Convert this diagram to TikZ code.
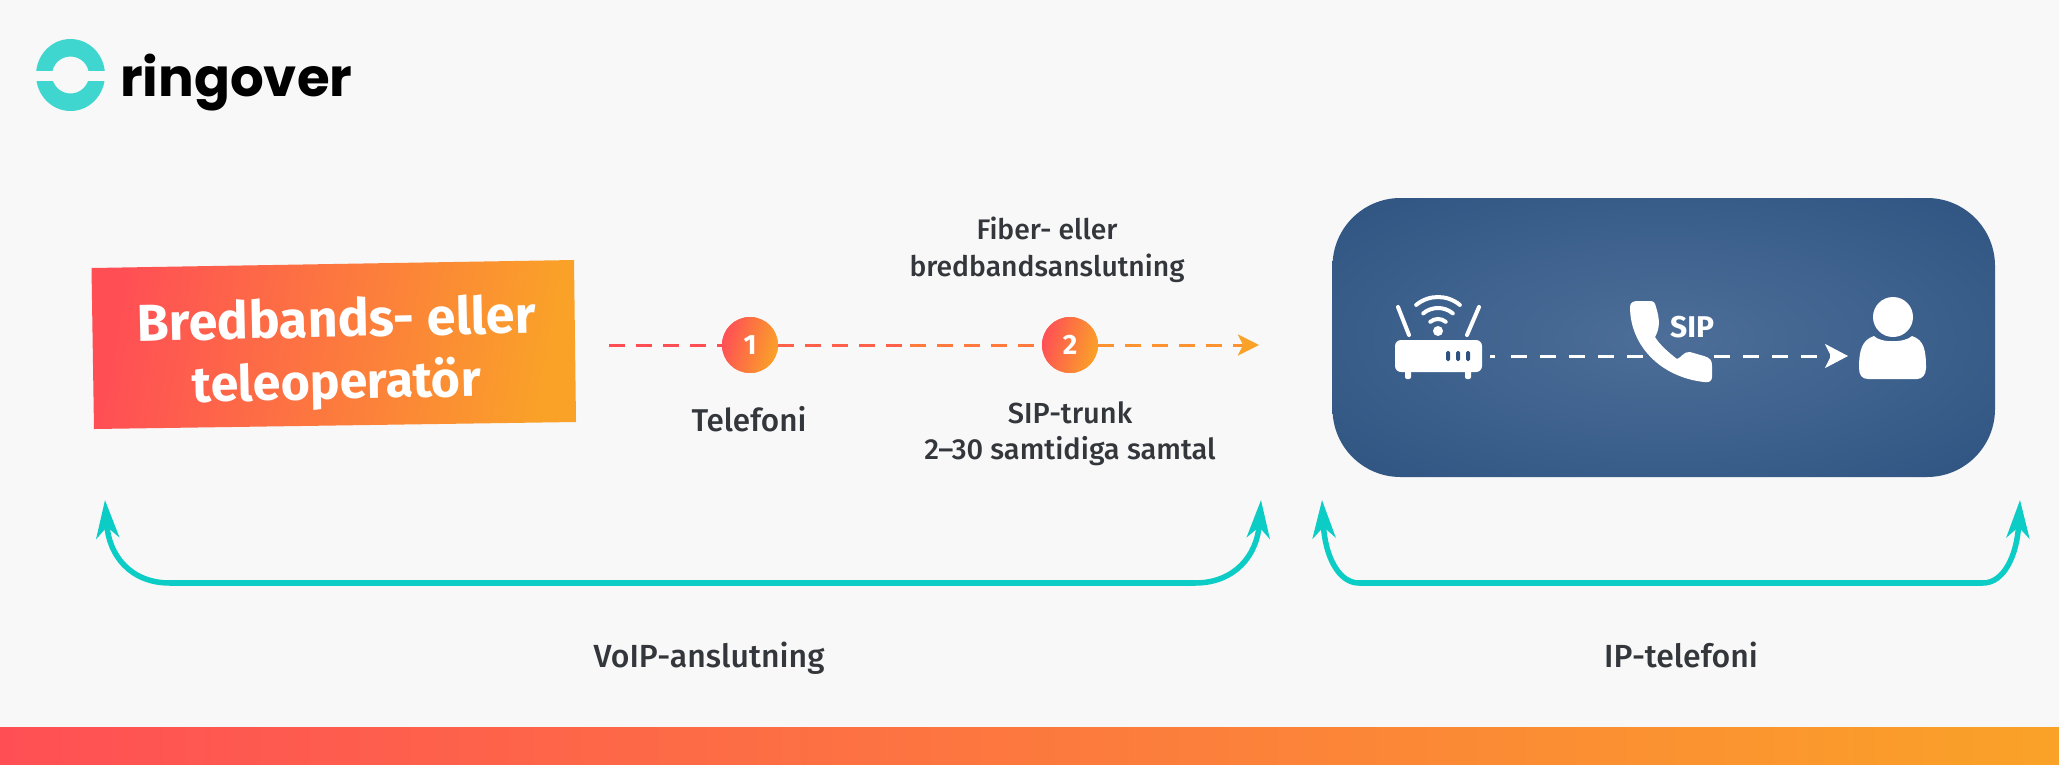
\documentclass[tikz,border=0pt]{standalone}
\usepackage{fontspec}
\setmainfont{Fira Sans}
\newfontfamily\labelfont{Fira Sans Medium}
\newfontfamily\logofont{Poppins}
\usetikzlibrary{arrows.meta,calc}
\definecolor{bg}{HTML}{F8F8F8}
\definecolor{ink}{HTML}{33373B}
\definecolor{tealc}{HTML}{0CCCC6}
\definecolor{logoteal}{HTML}{3FD6CF}
\definecolor{hot}{HTML}{FF4F55}
\definecolor{warm}{HTML}{FF7A3C}
\definecolor{amber}{HTML}{FAA228}
\definecolor{pc}{HTML}{4C6E98}
\definecolor{pm}{HTML}{3C608C}
\definecolor{pe}{HTML}{2D527F}
\pgfdeclareradialshading{panelglow}{\pgfpoint{0bp}{0bp}}{color(0bp)=(pc); color(20bp)=(pm); color(38bp)=(pe); color(50bp)=(pe)}
\tikzset{
  lbl/.style={text=ink,font=\labelfont\fontsize{#1}{36}\selectfont,align=center,inner sep=0pt,anchor=base},
  title/.style={text=white,font=\fontsize{#1}{62}\selectfont\bfseries,align=center,inner sep=0pt,anchor=base,rotate=1.2},
  badge/.style={circle,minimum size=56pt,inner sep=0pt,left color=hot,right color=amber,shading angle=75,text=white,font=\fontsize{28}{30}\selectfont\bfseries},
  dashline/.style={line width=3pt,dash pattern=on 16pt off 11pt},
  span/.style={tealc,line width=5.5pt,-{Stealth[length=38pt,width=23pt,inset=11pt]}},
  icon/.style={white,fill=white,draw=none},
}
\begin{document}
\begin{tikzpicture}[x=1pt,y=-1pt]
\useasboundingbox (0,0) rectangle (2059,764);
\fill[bg] (0,0) rectangle (2059,764);
% bottom bar
\shade[left color=hot,middle color=warm,right color=amber] (0,727) rectangle (2059,764);
% logo
\fill[logoteal,even odd rule] (70.5,75) ellipse [x radius=34.5,y radius=36] (70.5,75) ellipse [x radius=18.5,y radius=18.5];
\fill[bg] (30,70.8) rectangle (111,81);
\node[inner sep=0pt,anchor=base west,text=black,font=\logofont\bfseries\fontsize{53}{70}\selectfont] (logo) at (120,96) {ringover};
% title box
\shade[left color=hot,middle color=warm,right color=amber,shading angle=80] (91.5,268) -- (574,260) -- (576,422) -- (94,429) -- cycle;
\node[title=52] (t1) at (337,337) {Bredbands- eller};
\node[title=50] (t2) at (337,399) {teleoperatör};
% dashed line
\coordinate (s) at (609,345);
\coordinate (m) at (910,345);
\coordinate (e) at (1259,345);
\node[badge] (b1) at (750,345) {};
\node[badge] (b2) at (1070,345) {};
\draw[dashline,hot] (s) -- (b1);
\draw[dashline,color=hot!60!warm] (b1) -- (m);
\draw[dashline,color=warm] (m) -- (b2);
\draw[dashline,color=warm!40!amber,-{Stealth[length=21pt,width=21pt,inset=5pt,color=amber]}] (b2) -- (e);
\node[badge] at (b1) {1};
\node[badge] at (b2) {2};
% labels
\node[lbl=28.3] (l1) at (1047,239) {Fiber- eller};
\node[lbl=28.3] (l2) at (1047,276) {bredbandsanslutning};
\node[lbl=31.5] (l3) at (749,431) {Telefoni};
\node[lbl=29] (l4) at (1070,423) {SIP-trunk};
\node[lbl=29] (l5) at (1070,459) {2–30 samtidiga samtal};
\node[lbl=32] (l6) at (709,667) {VoIP-anslutning};
\node[lbl=32] (l7) at (1681,667) {IP-telefoni};
% panel
\path[shading=panelglow,rounded corners=68pt] (1332.5,198) rectangle (1995,477);
% router
\fill[icon,rounded corners=6pt] (1395,340) rectangle (1482,372);
\fill[icon,rounded corners=2pt] (1405,370) rectangle (1411,379);
\fill[icon,rounded corners=2pt] (1465,370) rectangle (1471,379);
\foreach \x in {1448,1458,1468}{\fill[pe,rounded corners=1.5pt] (\x-2,351) rectangle (\x+2,361);}
\draw[white,line width=4pt,line cap=round] (1398,307) -- (1409,335);
\draw[white,line width=4pt,line cap=round] (1479,307) -- (1467,335);
\fill[icon] (1438,331) circle (5);
\foreach \r in {12,23,34}{\draw[white,line width=4pt,line cap=round] ($(1438,331)+(-50:\r)$) arc[start angle=-50,end angle=-130,radius=\r] ;}
% nodes for flow
\coordinate (rtr) at (1490,356);
\coordinate (usr) at (1848,356);
\draw[white,line width=3pt,dash pattern=on 5pt off 16pt on 16pt off 13pt on 16pt off 13pt on 16pt off 13pt on 16pt off 13pt on 16pt off 13pt on 16pt off 13pt on 16pt off 13pt on 16pt off 13pt on 16pt off 13pt on 16pt off 13pt on 16pt off 13pt,-{Stealth[length=23pt,width=24pt,inset=6pt,color=white]}] (rtr) -- (usr);
% phone
\fill[icon] (1630,307) .. controls (1630,302) and (1634,301) .. (1638,301)
  -- (1650,301) .. controls (1654,301) and (1655,303) .. (1656,307)
  .. controls (1660,320) and (1660,328) .. (1655,337)
  .. controls (1660,345) and (1668,352) .. (1677,359)
  .. controls (1681,358) and (1684,351) .. (1690,352)
  -- (1704,356) .. controls (1710,358) and (1712,360) .. (1712,366)
  -- (1712,377) .. controls (1712,381) and (1709,383) .. (1704,382)
  .. controls (1660,377) and (1630,345) .. (1630,307) -- cycle;
\node[inner sep=0pt,anchor=base west,text=white,font=\fontsize{30}{32}\selectfont\bfseries] (sip) at (1670,337) {SIP};
% person
\fill[icon] (1893,317) ellipse [x radius=20,y radius=20];
\fill[icon] (1859,368) .. controls (1859,350) and (1862,340) .. (1874,336)
  .. controls (1880,343) and (1905,343) .. (1912,336)
  .. controls (1924,340) and (1926,350) .. (1926,368)
  .. controls (1926,375) and (1922,379) .. (1917,379)
  -- (1868,379) .. controls (1862,379) and (1859,375) .. (1859,368) -- cycle;
% spans
\coordinate (a1) at (170,583); \coordinate (a2) at (1195,583);
\coordinate (t1a) at (105,500); \coordinate (t1b) at (1261,500);
\coordinate (a3) at (1359,583); \coordinate (a4) at (1983,583);
\coordinate (t2a) at (1322,500); \coordinate (t2b) at (2020,500);
\draw[span] (a1) .. controls (130,583) and (109,555) .. (t1a);
\draw[span] (a2) .. controls (1235,583) and (1257,555) .. (t1b);
\draw[tealc,line width=5.5pt] (a1) -- (a2);
\draw[span] (a3) .. controls (1338,583) and (1325,555) .. (t2a);
\draw[span] (a4) .. controls (2004,583) and (2017,555) .. (t2b);
\draw[tealc,line width=5.5pt] (a3) -- (a4);
\end{tikzpicture}
\end{document}
